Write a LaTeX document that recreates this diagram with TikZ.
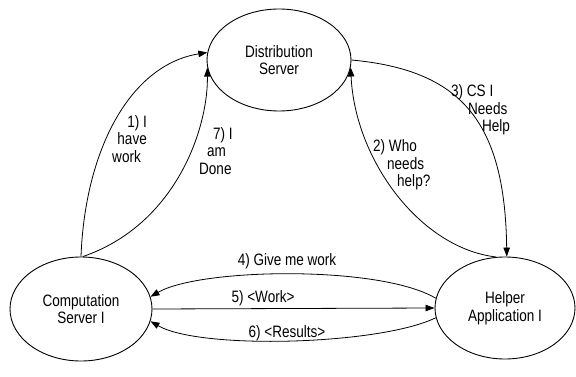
\documentclass[tikz,border=0pt]{standalone}
\usepackage{fontspec}
\setmainfont{Liberation Sans}[FakeStretch=0.82]
\usetikzlibrary{shapes.geometric,arrows.meta}
\begin{document}
\begin{tikzpicture}[x=1pt,y=-1pt,
  every node/.style={font=\fontsize{16.5}{17.5}\selectfont, inner sep=0pt},
  proc/.style={draw, ellipse, line width=0.9pt, align=center},
  msg/.style={line width=0.8pt, -{Triangle[length=9pt,width=6.5pt]}},
  lbl/.style={align=left, anchor=west}]
\useasboundingbox (0,0) rectangle (576,377);

% processes
\node[proc, minimum width=144pt, minimum height=102pt] (ds) at (279,60) {Distribution\\Server};
\node[proc, minimum width=142pt, minimum height=104pt] (cs) at (81,309) {Computation\\Server I};
\node[proc, minimum width=140pt, minimum height=102pt] (ha) at (505,308) {Helper\\Application I};

% messages between computation server and distribution server
\draw[msg] (cs.north) .. controls (85,150) and (130,65) .. (ds.174);
\draw[msg] (cs.88) .. controls (175,225) and (208,130) .. (ds.186);

% messages between helper and distribution server
\draw[msg] (ha.100) .. controls (420,248) and (355,160) .. (ds.354);
\draw[msg] (ds.east) .. controls (460,70) and (505,120) .. (ha.88);

% exchanges between computation server and helper
\draw[msg] (ha.172) .. controls (380,265) and (200,268) .. (cs.10);
\draw[msg] (cs.east) -- (ha.west);
\draw[msg] (ha.188) .. controls (380,345) and (200,350) .. (cs.350);

% labels
\node[align=right, anchor=east] (l1) at (147,139) {1) I\\have\\work\hspace*{6pt}};
\node[lbl] (l7) at (199,151) {\hspace*{14pt}7) I\\\hspace*{8pt}am\\Done};
\node[lbl] (l3) at (451,110) {3) CS I\\\hspace*{17pt}Needs\\\hspace*{31pt}Help};
\node[lbl] (l2) at (373,165) {2) Who\\\hspace*{14pt}needs\\\hspace*{24pt}help?};
\node (l4) at (287,261) {4) Give me work};
\node (l5) at (263,298) {5) <Work>};
\node (l6) at (287,333) {6) <Results>};
\end{tikzpicture}
\end{document}
